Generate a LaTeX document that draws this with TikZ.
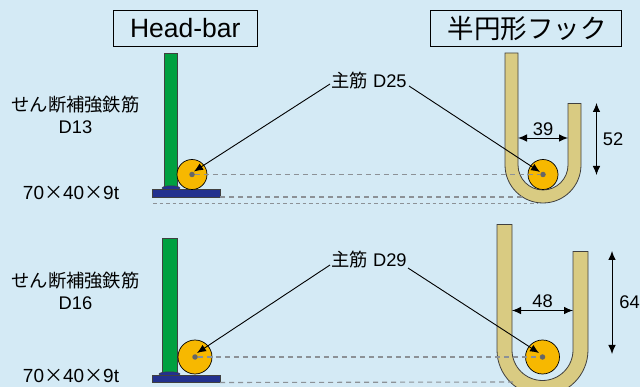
\documentclass[tikz,border=0pt]{standalone}
\usepackage{fontspec}
\setmainfont{Liberation Sans}
\newfontfamily\cjk{Noto Sans CJK JP}
\usetikzlibrary{arrows.meta,shapes.geometric}
\definecolor{bgblue}{HTML}{D4EAF5}
\definecolor{bargreen}{HTML}{00A040}
\definecolor{rebargold}{HTML}{F7B800}
\definecolor{hooktan}{HTML}{D9CB82}
\definecolor{platenavy}{HTML}{23318E}
\definecolor{guidegray}{HTML}{8C9196}
\newcommand{\shearlabel}{{\cjk せん断補強鉄筋}}
\newcommand{\platelabel}{{\fontsize{19}{22}\selectfont 70{\cjk ×}40{\cjk ×}9t}}

\begin{document}
\begin{tikzpicture}[
x=1pt, y=-1pt,
>={Latex[length=9pt,width=7.5pt]},
title/.style={rectangle, draw=black, fill=none, inner sep=0, outer sep=0, line width=0.8pt, font=\fontsize{26.5}{26}\selectfont, minimum height=36pt},
label/.style={inner sep=0, align=center, font=\fontsize{18.3}{22}\selectfont},
bar/.style={rectangle, draw=black!75, fill=bargreen, line width=0.7pt, inner sep=0, outer sep=0},
plate/.style={rectangle, draw=black!75, fill=platenavy, line width=0.7pt, inner sep=0, outer sep=0, minimum width=68pt, minimum height=7.5pt},
barhead/.style={ellipse, draw=black!75, fill=platenavy, inner sep=0, outer sep=0},
rebar/.style={circle, draw=black, fill=rebargold, line width=0.7pt, inner sep=0, outer sep=0},
dot/.style={circle, fill=black!60, inner sep=0, outer sep=0, minimum size=5.5pt},
hook/.style={draw=black!75, fill=hooktan, line width=0.8pt},
guide/.style={color=guidegray, line width=1.1pt, dash pattern=on 5pt off 4pt},
guidethin/.style={color=guidegray, line width=0.8pt, dash pattern=on 3.5pt off 3pt},
leader/.style={->, black, line width=0.9pt},
dimline/.style={<->, black, line width=0.9pt},
]

% Background and page limits
\useasboundingbox (0,0) rectangle (640,387);
\fill[bgblue] (0,0) rectangle (640,387);
\clip (0,0) rectangle (640,387);

% Titles
\node[title, minimum width=144.5pt] (headbar) at (185.25,28.5) {Head-bar};
\node[title, minimum width=191pt] (hooktitle) at (525.5,28.5) {\hspace{3pt}\cjk 半円形フック};

% Upper row: hook outline
\draw[hook] (505,53) -- (505,165) arc[start angle=180, end angle=360, radius=38pt]
  -- (581,103.5) -- (568,103.5) -- (568,165) arc[start angle=360, end angle=180, radius=25pt]
  -- (518,53) -- cycle;

% Upper row: nodes
\node[bar, minimum width=13pt, minimum height=134pt] (bar1) at (171,120) {};
\node[barhead, minimum width=18pt, minimum height=4.5pt] (head1) at (171,188) {};
\node[plate] (plate1) at (186,193.25) {};
\node[rebar, minimum size=30pt] (rebar1) at (192,174.5) {};
\node[rebar, minimum size=30pt] (rebar2) at (543,174.5) {};
\node[dot] (dot1) at (192,174.5) {};
\node[dot] (dot2) at (543,174.5) {};
\node[label] (shear1) at (75.5,105) {\shearlabel};
\node[label] (size1) at (75.5,127) {D13};
\node[label] (pl1) at (71,193) {\platelabel};
\node[label] (main1) at (369,81) {{\cjk 主筋} D25};

\coordinate (end1) at (522,197);
\coordinate (low1a) at (153,203.5);
\coordinate (low1b) at (538,203.5);
\coordinate (inL1) at (518,138);
\coordinate (inR1) at (568,138);
\coordinate (top1) at (596.5,103);
\coordinate (bot1) at (596.5,175);
\coordinate (from1a) at (330,84);
\coordinate (from1b) at (409,86);
\coordinate (tip1a) at (194,171.5);
\coordinate (tip1b) at (540,172);

% Upper row: guide lines
\draw[guide] (dot1) -- (dot2);
\draw[guide] (plate1.south east) -- (end1);
\draw[guidethin] (low1a) -- (low1b);

% Upper row: arrows
\draw[leader] (from1a) -- (tip1a);
\draw[leader] (from1b) -- (tip1b);
\draw[dimline] (inL1) to node[label, above=2pt] (d39) {39} (inR1);
\draw[dimline] (top1) to node[label, right=6pt] (d52) {52} (bot1);

% Lower row: hook outline
\draw[hook] (497,224.5) -- (497,350) arc[start angle=180, end angle=360, radius=45.5pt]
  -- (588,251.5) -- (573,251.5) -- (573,350) arc[start angle=360, end angle=180, radius=30.5pt]
  -- (512,224.5) -- cycle;

% Lower row: nodes
\node[bar, minimum width=15.5pt, minimum height=133.5pt] (bar2) at (169.75,305.25) {};
\node[barhead, minimum width=21pt, minimum height=4.5pt] (head2) at (169.5,374) {};
\node[plate] (plate2) at (186,378.75) {};
\node[rebar, minimum size=34pt] (rebar3) at (195,357) {};
\node[rebar, minimum size=34pt] (rebar4) at (542.5,357) {};
\node[dot] (dot3) at (195,357) {};
\node[dot] (dot4) at (542.5,357) {};
\node[label] (shear2) at (75.5,281) {\shearlabel};
\node[label] (size2) at (75.5,303) {D16};
\node[label] (pl2) at (71,376) {\platelabel};
\node[label] (main2) at (369,260) {{\cjk 主筋} D29};

\coordinate (end2) at (516,382);
\coordinate (inL2) at (512,310.5);
\coordinate (inR2) at (573,310.5);
\coordinate (top2) at (612,251);
\coordinate (bot2) at (612,354);
\coordinate (from2a) at (330,265);
\coordinate (from2b) at (408,268);
\coordinate (tip2a) at (197,353);
\coordinate (tip2b) at (539,353);

% Lower row: guide lines
\draw[guide] (dot3) -- (dot4);
\draw[guide] (plate2.south east) -- (end2);

% Lower row: arrows
\draw[leader] (from2a) -- (tip2a);
\draw[leader] (from2b) -- (tip2b);
\draw[dimline] (inL2) to node[label, above=2pt] (d48) {48} (inR2);
\draw[dimline] (top2) to node[label, right=7pt] (d64) {64} (bot2);

\end{tikzpicture}
\end{document}
